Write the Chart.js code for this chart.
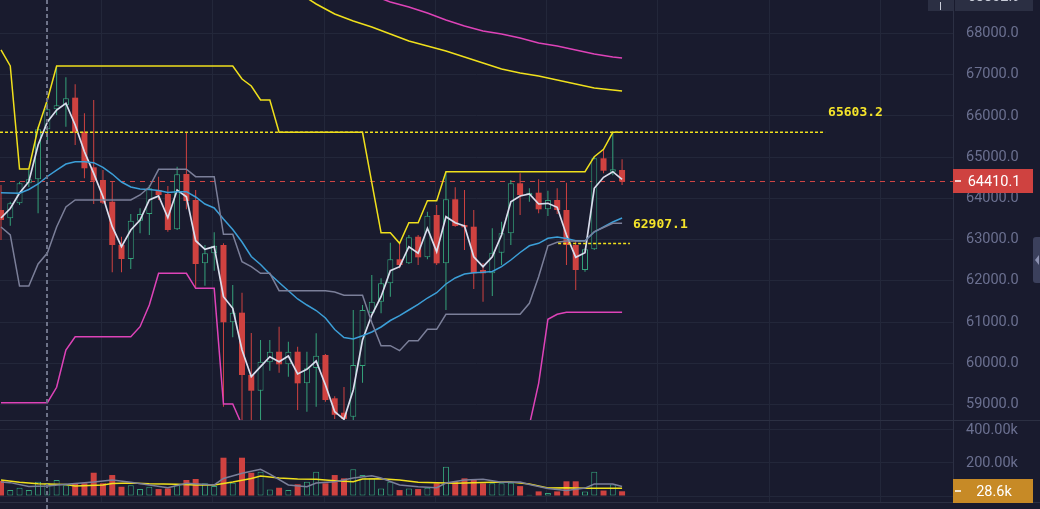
<!DOCTYPE html>
<html>
<head>
<meta charset="utf-8">
<script src="https://cdn.jsdelivr.net/npm/chart.js@4/dist/chart.umd.min.js"></script>
<style>
  html, body { margin: 0; padding: 0; background: #191b2e; }
  #wrap { position: relative; width: 1040px; height: 509px; overflow: hidden; background: #191b2e; }
  #price { position: absolute; left: 0; top: 0; }
  #vol { position: absolute; left: 0; top: 421px; }
</style>
</head>
<body>
<div id="wrap">
  <canvas id="price" width="1040" height="421"></canvas>
  <canvas id="vol" width="1040" height="88"></canvas>
</div>
<script>
// candles, one per bar index
const opens = [63718, 63517, 63881, 64366, 64463, 65676, 66161, 66258, 66443, 65618,
  64754, 64446, 63919, 62869, 62529, 63459, 63621, 64203, 64106, 63250,
  64591, 63961, 62425, 62668, 62869, 60994, 61227, 59715, 59334, 60023,
  60280, 59975, 60280, 59513, 59886, 60200, 59150, 58800, 58700, 59934,
  61227, 61493, 61940, 62522, 62425, 63070, 62570, 63597, 62425, 63978,
  63354, 63313, 62263, 62183, 62683, 63153, 64366, 64082, 64138, 63735,
  63961, 63718, 62869, 62263, 62765, 64972, 64647, 64689];
const highs = [64325, 63920, 64405, 64689, 65739, 66307, 67212, 66937, 66768, 66064,
  66387, 64689, 64405, 63070, 63621, 63759, 64325, 64526, 64300, 64769,
  65603.2, 64203, 62869, 63177, 62910, 61899, 61712, 60734, 60564, 60564,
  60887, 60523, 60402, 60280, 60727, 60224, 59200, 59424, 61292, 61414,
  62141, 62061, 62925, 62910, 63112, 63112, 63677, 63839, 64647, 64269,
  64203, 63718, 62432, 63274, 63434, 64446, 64609, 64245, 64463, 64186,
  64245, 64381, 62973, 62789, 65011, 65191, 65603.2, 64948];
const lows = [62990, 63337, 63839, 64277, 63638, 65375, 66023, 65739, 65295, 64487,
  63864, 63864, 62207, 62207, 62287, 63153, 63112, 63961, 63192, 63233,
  63735, 61818, 61881, 62246, 58946, 60630, 58600, 58600, 58600, 59820,
  59771, 59674, 58866, 58825, 58946, 59068, 58650, 58550, 58600, 59528,
  61220, 61212, 61615, 62304, 62408, 62384, 62522, 62384, 61292, 63313,
  62748, 61800, 61493, 61632, 62384, 62869, 63597, 63919, 63638, 63573,
  63621, 62384, 61777, 62221, 62748, 64609, 64560, 64325];
const closes = [63475, 63881, 64366, 64463, 65676, 66161, 66258, 66428, 65593, 64730,
  64429, 63895, 62869, 62529, 63459, 63621, 64245, 64082, 63233, 64584,
  63937, 62408, 62668, 62852, 60994, 61227, 59715, 59334, 60038, 60280,
  59975, 60280, 59513, 59878, 60183, 59109, 58750, 58650, 59958, 61292,
  61493, 61940, 62522, 62384, 63056, 62570, 63580, 62425, 63978, 63330,
  63298, 62183, 62183, 62683, 63153, 64366, 64082, 64138, 63735, 63961,
  63718, 62869, 62263, 62765, 64972, 64672, 64705, 64410.1];
const volumes = [90900, 36000, 50000, 36000, 87000, 77000, 97000, 65000, 77000, 77000,
  141000, 77000, 127000, 56000, 65000, 42000, 56000, 42000, 46000, 65000,
  97000, 103000, 77000, 61000, 232000, 81000, 232000, 141000, 147000, 40000,
  50000, 36000, 71000, 87000, 147000, 77000, 127000, 107000, 162000, 127000,
  107000, 46000, 87000, 36000, 46000, 42000, 50000, 77000, 178000, 87000,
  107000, 101000, 77000, 77000, 77000, 81000, 60000, 8000, 28000, 18000,
  28000, 89000, 89000, 27000, 147000, 33000, 70000, 28600];

// indicator lines (white fast MA, blue MA, price channel)
const maFast = [63524, 63755, 64130, 64405, 65295, 65853, 66144, 66307, 65780, 65132,
  64608, 64041, 63313, 62828, 63233, 63475, 63961, 64058, 63531, 64203,
  64041, 62973, 62765, 62828, 61615, 61333, 60322, 59674, 59917, 60159,
  60038, 60176, 59740, 59853, 60055, 59473, 58825, 58640, 59351, 60564,
  61171, 61615, 62246, 62343, 62828, 62668, 63274, 62707, 63556, 63410,
  63330, 62585, 62343, 62585, 63112, 63919, 64058, 64106, 63864, 63881,
  63784, 63112, 62571, 62683, 64245, 64511, 64647, 64463];
const maMid = [64138, 64130, 64123, 64215, 64349, 64531, 64688, 64834, 64890, 64890,
  64866, 64754, 64591, 64397, 64276, 64228, 64215, 64191, 64143, 64162,
  64162, 64034, 63864, 63767, 63500, 63245, 62942, 62590, 62396, 62165,
  61959, 61760, 61559, 61413, 61280, 61098, 60819, 60625, 60589, 60669,
  60759, 60880, 61037, 61154, 61292, 61426, 61583, 61712, 61923, 62069,
  62165, 62197, 62209, 62226, 62343, 62505, 62687, 62850, 62910, 63032,
  63063, 63027, 62973, 62973, 63184, 63306, 63427, 63524];
const chanUpper = [67600, 67212, 64713, 64713, 65707, 66387, 67212, 67212, 67212, 67212,
  67212, 67212, 67212, 67212, 67212, 67212, 67212, 67212, 67212, 67212,
  67212, 67212, 67212, 67212, 67212, 67212, 66896, 66726, 66387, 66387,
  65603.2, 65603.2, 65603.2, 65603.2, 65603.2, 65603.2, 65603.2, 65603.2, 65603.2, 65603.2,
  64380, 63168, 63168, 62910, 63410, 63410, 63944, 63944, 64647, 64647,
  64647, 64647, 64647, 64647, 64647, 64647, 64647, 64647, 64647, 64647,
  64647, 64647, 64647, 64647, 65011, 65191, 65603.2, 65603.2];
const chanLower = [59043, 59043, 59043, 59043, 59043, 59043, 59417, 60322, 60644, 60644,
  60644, 60644, 60644, 60644, 60644, 60887, 61413, 62182, 62182, 62182,
  62182, 61818, 61818, 61818, 59010, 59010, 58500, 58500, 58500, 58500,
  58500, 58500, 58500, 58500, 58500, 58500, 58500, 58500, 58500, 58500,
  58500, 58500, 58500, 58500, 58500, 58500, 58500, 58500, 58500, 58500,
  58500, 58500, 58500, 58500, 58500, 58500, 58500, 58500, 59514, 61067,
  61188, 61236, 61236, 61236, 61236, 61236, 61236, 61236];
const chanGray = [63306, 63112, 61874, 61874, 62408, 62675, 63306, 63791, 63961, 63961,
  63961, 63961, 63961, 63961, 63961, 64082, 64276, 64706, 64706, 64706,
  64706, 64526, 64526, 64526, 63129, 63129, 62464, 62343, 62182, 62182,
  61760, 61760, 61760, 61760, 61760, 61760, 61729, 61651, 61651, 61651,
  60989, 60426, 60426, 60305, 60547, 60547, 60824, 60824, 61188, 61188,
  61188, 61188, 61188, 61188, 61188, 61188, 61188, 61455, 62100, 62852,
  62935, 62966, 62966, 62966, 63196, 63293, 63395, 63395];

// slow averages that run in from above the top edge (null = not read)
const maSlowYellow = [null, null, null, null, null, null, null, null, null, null,
  null, null, null, null, null, null, null, null, null, null,
  null, null, null, null, null, null, null, null, null, null,
  69298, null, null, 68861, 68716, null, 68473, null, 68303, null,
  68158, null, 67988, null, 67818, null, 67697, null, 67575, null,
  67430, null, 67284, null, 67139, null, 67042, null, 66969, null,
  66872, null, 66775, null, 66678, null, 66629, 66605];
const maSlowPink = [null, null, null, null, null, null, null, null, null, null,
  null, null, null, null, null, null, null, null, null, null,
  null, null, null, null, null, null, null, null, null, null,
  null, null, null, null, null, null, null, null, null, null,
  68934, null, 68764, null, 68643, null, 68497, null, 68328, null,
  68182, null, 68061, null, 67988, null, 67891, null, 67770, null,
  67697, null, 67600, null, 67503, null, 67430, 67406];

// volume averages
const volMaYellow = [97000, null, 83000, null, 74000, null, null, 70000, 61000, null,
  null, 67000, 76000, null, 79000, null, 74000, null, null, 71000,
  null, 67000, null, 67000, null, 85000, null, 106000, 121000, null,
  109000, null, 103000, null, 101000, null, 93000, null, 87000, 103000,
  null, 105000, null, 97000, null, 83000, null, 81000, null, 77000,
  null, 81000, null, 83000, null, 85000, null, 73000, null, 48000,
  null, 50000, null, 47000, null, null, null, 47000];
const volMaGray = [85000, 81000, null, 58000, null, 61000, null, 71000, null, null,
  85000, null, 97000, null, 83000, null, null, null, 50000, null,
  77000, null, null, 67000, 106000, null, 138000, null, 162000, 133000,
  null, 67000, null, 56000, 79000, null, 87000, null, 109000, null,
  123000, 109000, null, 67000, null, 56000, null, 50000, 79000, null,
  97000, null, 101000, null, 83000, null, 85000, 70000, null, 45000,
  null, 33000, null, 48000, 73000, null, 73000, 58000];

const priceTicks = [59000, 60000, 61000, 62000, 63000, 64000, 65000, 66000, 67000, 68000];
const volTicks = [0, 200000, 400000];
const markHigh = 65603.2;
const markLow = 62907.1;
const crossIndex = 5;
const crossPrice = 68802.9;

// view window
const X_MIN = -0.108, X_MAX = 102.7;
const P_MIN = 58623.5, P_MAX = 68812.7;
const V_MIN = -36360, V_MAX = 454500;
const GRID_START = 10.86, GRID_STEP = 12;
const HIGH_LINE_END = 88.9, LOW_LINE_FROM = 60.1, LOW_LINE_END = 67.85;

const BG = '#191b2e', GRID = '#23273a', AXIS = '#2c3044', TXT = '#6b7090';
const UP = '#35a27a', DOWN = '#cf4240', YEL = '#f0e01c', PINK = '#de43b8';
const GRAY = '#7b7f99', BLUE = '#3c9fd8', WHITE = '#d9ddec';

const idx = closes.map((_, i) => i);
const isUp = i => closes[i] >= opens[i];
const pts = arr => arr.map((v, i) => v == null ? null : { x: i, y: v }).filter(p => p);
const lastClose = closes[closes.length - 1];

function xAxis(h) {
  return {
    type: 'linear', min: X_MIN, max: X_MAX, offset: false,
    afterBuildTicks: s => {
      const t = [];
      for (let v = GRID_START; v < X_MAX; v += GRID_STEP) t.push({ value: v });
      s.ticks = t;
    },
    afterFit: s => { s.height = h; s.paddingLeft = 0; s.paddingRight = 0; },
    ticks: { display: false },
    grid: { color: GRID, drawTicks: false, offset: false },
    border: { display: false }
  };
}

function yAxis(min, max, ticks, fmt) {
  return {
    position: 'right', min: min, max: max,
    afterBuildTicks: s => { s.ticks = ticks.map(v => ({ value: v })); },
    afterFit: s => { s.width = 87; s.paddingTop = 0; s.paddingBottom = 0; },
    ticks: { color: TXT, padding: 13, font: { family: 'Roboto', size: 14.5 }, callback: fmt },
    grid: { color: GRID, drawTicks: false },
    border: { color: AXIS }
  };
}

const line = (data, color, extra) => Object.assign({
  type: 'line', data: data, borderColor: color, borderWidth: 1.5,
  pointRadius: 0, tension: 0, fill: false, order: 1
}, extra || {});

function crosshair(c, y0, y1) {
  const ctx = c.ctx;
  const x = Math.round(c.scales.x.getPixelForValue(crossIndex));
  ctx.save();
  ctx.strokeStyle = '#6e7389';
  ctx.lineWidth = 2;
  ctx.setLineDash([4, 3]);
  ctx.beginPath();
  ctx.moveTo(x, y0);
  ctx.lineTo(x, y1);
  ctx.stroke();
  ctx.restore();
}

function valueBox(ctx, x, y, w, color, text) {
  ctx.fillStyle = color;
  ctx.fillRect(x, y - 12, w, 24);
  ctx.fillStyle = '#ffffff';
  ctx.fillRect(x + 2, y - 0.75, 6, 1.5);
  ctx.font = '14.5px Roboto';
  ctx.textAlign = 'center';
  ctx.textBaseline = 'middle';
  ctx.fillText(text, x + w / 2 + 1, y + 1);
}

const pricePlugin = {
  id: 'priceExtras',
  beforeDatasetsDraw(c) {
    // last price dashed line
    const ctx = c.ctx, a = c.chartArea;
    const y = Math.round(c.scales.y.getPixelForValue(lastClose)) + 0.5;
    ctx.save();
    ctx.strokeStyle = '#d04444';
    ctx.lineWidth = 1;
    ctx.setLineDash([5, 5]);
    ctx.beginPath();
    ctx.moveTo(a.left, y);
    ctx.lineTo(a.right, y);
    ctx.stroke();
    ctx.restore();
  },
  afterDatasetsDraw(c) {
    const ctx = c.ctx, xs = c.scales.x, ys = c.scales.y;
    crosshair(c, 0, c.chartArea.bottom);
    ctx.save();
    ctx.fillStyle = '#f5e42a';
    ctx.font = 'bold 13px "DejaVu Sans Mono"';
    ctx.textAlign = 'left';
    ctx.textBaseline = 'middle';
    ctx.fillText(markHigh.toFixed(1), xs.getPixelForValue(HIGH_LINE_END) + 3, ys.getPixelForValue(markHigh) - 20);
    ctx.fillText(markLow.toFixed(1), xs.getPixelForValue(LOW_LINE_END) + 3, ys.getPixelForValue(markLow) - 19);
    ctx.restore();
  },
  afterDraw(c) {
    const ctx = c.ctx, ys = c.scales.y, a = c.chartArea;
    ctx.save();
    // pane separator
    ctx.fillStyle = '#2c3043';
    ctx.fillRect(0, a.bottom, c.width, 1);
    // last price box
    valueBox(ctx, a.right, Math.round(ys.getPixelForValue(lastClose)), 80, DOWN, lastClose.toFixed(1));
    // crosshair price label at top edge
    ctx.fillStyle = '#2b2f43';
    ctx.fillRect(a.right - 25, 0, 25, 11);
    ctx.fillRect(a.right + 2, 0, 78, 11);
    ctx.fillStyle = '#c9cdd9';
    ctx.fillRect(a.right - 13, 2, 1, 8);
    ctx.font = '14.5px Roboto';
    ctx.textAlign = 'center';
    ctx.textBaseline = 'middle';
    ctx.fillText(crossPrice.toFixed(1), a.right + 41, -3);
    // side tab
    ctx.fillStyle = '#3b405c';
    ctx.beginPath();
    ctx.roundRect(a.right + 80, 237, 12, 46, 3);
    ctx.fill();
    ctx.fillStyle = '#8d92b2';
    ctx.beginPath();
    ctx.moveTo(a.right + 82, 260);
    ctx.lineTo(a.right + 86, 255);
    ctx.lineTo(a.right + 86, 265);
    ctx.fill();
    ctx.restore();
  }
};

const volPlugin = {
  id: 'volExtras',
  afterDatasetsDraw(c) {
    crosshair(c, 0, c.height);
  },
  afterDraw(c) {
    const ctx = c.ctx, ys = c.scales.y, a = c.chartArea;
    ctx.save();
    ctx.fillStyle = '#2c3043';
    ctx.fillRect(0, a.bottom, c.width, 1);
    const last = volumes[volumes.length - 1];
    valueBox(ctx, a.right, Math.round(ys.getPixelForValue(last)), 80, '#c78a26',
      (last / 1000).toFixed(1) + 'k');
    ctx.restore();
  }
};

const baseOptions = {
  responsive: false,
  animation: false,
  devicePixelRatio: 1,
  layout: { padding: 0, autoPadding: false },
  plugins: { legend: { display: false }, tooltip: { enabled: false } },
  events: []
};

new Chart(document.getElementById('price'), {
  type: 'bar',
  data: {
    datasets: [
      {
        type: 'bar', order: 3, grouped: false, barThickness: 1, inflateAmount: 0, borderWidth: 0,
        data: idx.map(i => ({ x: i, y: [lows[i], highs[i]] })),
        backgroundColor: idx.map(i => isUp(i) ? UP : DOWN)
      },
      {
        type: 'bar', order: 2, grouped: false, barThickness: 6, inflateAmount: 0, borderSkipped: false,
        data: idx.map(i => ({ x: i, y: [opens[i], closes[i]] })),
        backgroundColor: idx.map(i => isUp(i) ? BG : DOWN),
        borderColor: idx.map(i => isUp(i) ? UP : DOWN),
        borderWidth: idx.map(i => isUp(i) ? 1 : 0)
      },
      line([{ x: X_MIN, y: markHigh }, { x: HIGH_LINE_END, y: markHigh }], YEL, { borderDash: [3, 2] }),
      line([{ x: LOW_LINE_FROM, y: markLow }, { x: LOW_LINE_END, y: markLow }], YEL, { borderDash: [3, 2] }),
      line(pts(maSlowPink), PINK),
      line(pts(maSlowYellow), YEL),
      line(pts(chanLower), PINK),
      line(pts(chanUpper), YEL),
      line(pts(chanGray), GRAY),
      line(pts(maMid), BLUE),
      line(pts(maFast), WHITE, { borderWidth: 1.7 })
    ]
  },
  options: Object.assign({}, baseOptions, {
    scales: {
      x: xAxis(1),
      y: yAxis(P_MIN, P_MAX, priceTicks, v => Number(v).toFixed(1))
    }
  }),
  plugins: [pricePlugin]
});

new Chart(document.getElementById('vol'), {
  type: 'bar',
  data: {
    datasets: [
      {
        type: 'bar', order: 2, grouped: false, barThickness: 6, inflateAmount: 0, borderSkipped: false,
        data: idx.map(i => ({ x: i, y: volumes[i] })),
        backgroundColor: idx.map(i => isUp(i) ? BG : DOWN),
        borderColor: idx.map(i => isUp(i) ? UP : DOWN),
        borderWidth: idx.map(i => isUp(i) ? 1 : 0)
      },
      line(pts(volMaGray), GRAY),
      line(pts(volMaYellow), YEL)
    ]
  },
  options: Object.assign({}, baseOptions, {
    scales: {
      x: xAxis(7),
      y: yAxis(V_MIN, V_MAX, volTicks, v => (Number(v) / 1000).toFixed(2) + 'k')
    }
  }),
  plugins: [volPlugin]
});
</script>
</body>
</html>
